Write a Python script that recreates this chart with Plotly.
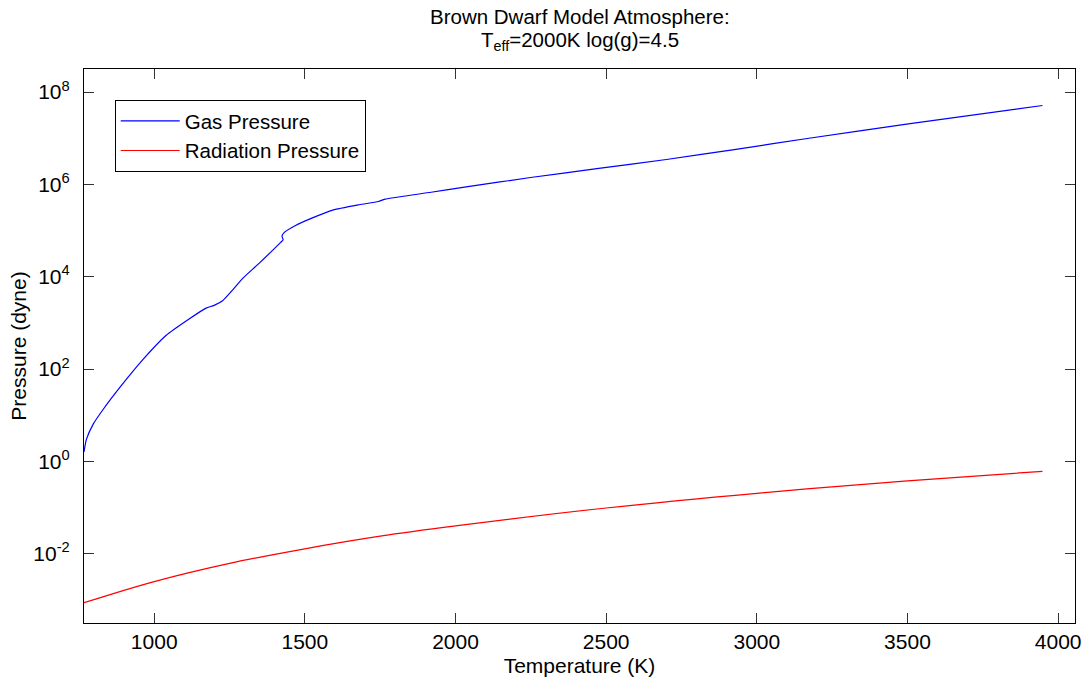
import plotly.graph_objects as go

# Gas pressure curve
gas_T = [767, 775, 798, 831, 886, 963, 1040, 1117, 1172, 1199, 1227, 1260, 1293, 1348,
         1419, 1428, 1424, 1432, 1469, 1523, 1590, 1680, 1744, 1766, 1919, 2030,
         2249, 2469, 2700, 2931, 3173, 3503, 3948]
gas_P = [1.6, 3.0, 6.5, 13.5, 40, 162, 540, 1230, 2090, 2400, 3020, 5130, 9120, 19500,
         55000, 63000, 76000, 91200, 129000, 186000, 275000, 363000, 427000, 479000,
         676000, 871000, 1.41e6, 2.19e6, 3.47e6, 5.75e6, 1.0e7, 2.04e7, 5.13e7]

# Radiation pressure curve
rad_T = [767, 1000, 1250, 1500, 1750, 2000, 2500, 3000, 3500, 3948]
rad_P = [8.7e-4, 2.5e-3, 6.2e-3, 1.28e-2, 2.4e-2, 4.0e-2, 9.8e-2, 0.204, 0.378, 0.61]

x_ticks = [1000, 1500, 2000, 2500, 3000, 3500, 4000]
y_ticks = [1e-2, 1e0, 1e2, 1e4, 1e6, 1e8]
y_tick_text = ["10<sup>-2</sup>", "10<sup>0</sup>", "10<sup>2</sup>",
               "10<sup>4</sup>", "10<sup>6</sup>", "10<sup>8</sup>"]

title_line1 = "Brown Dwarf Model Atmosphere:"
title_line2 = "T<sub>eff</sub>=2000K log(g)=4.5"

FONT = "Liberation Sans, Arial, Helvetica, sans-serif"

fig = go.Figure()
fig.add_trace(go.Scatter(x=gas_T, y=gas_P, mode="lines", name="Gas Pressure",
                         line=dict(color="#0000ff", width=1.2, shape="spline", smoothing=0.6)))
fig.add_trace(go.Scatter(x=rad_T, y=rad_P, mode="lines", name="Radiation Pressure",
                         line=dict(color="#ff0000", width=1.2, shape="spline")))

fig.add_annotation(
    text=title_line1, x=0.5, xref="paper", xanchor="center",
    y=1.095, yref="paper", yanchor="middle",
    showarrow=False, font=dict(family=FONT, size=20.5, color="black"),
)
fig.add_annotation(
    text=title_line2, x=0.5, xref="paper", xanchor="center",
    y=1.051, yref="paper", yanchor="middle",
    showarrow=False, font=dict(family=FONT, size=20.5, color="black"),
)

fig.update_layout(
    width=1089, height=682,
    margin=dict(l=84, r=8, t=69, b=55),
    paper_bgcolor="white", plot_bgcolor="white",
    font=dict(family=FONT, size=21, color="black"),
    showlegend=True,
    legend=dict(x=0.031, y=0.944, xanchor="left", yanchor="top",
                bordercolor="black", borderwidth=1, bgcolor="white",
                font=dict(family=FONT, size=20.5, color="black"),
                tracegroupgap=0, itemwidth=59),
)

fig.update_xaxes(
    range=[767, 4056], tickvals=x_ticks, ticks="inside", ticklen=10,
    tickcolor="#333333", showline=True, linecolor="black", linewidth=1.2,
    mirror="ticks", showgrid=False, zeroline=False,
    title=dict(text="Temperature (K)", standoff=6, font=dict(size=21)),
    tickfont=dict(size=21),
)
fig.update_yaxes(
    type="log", range=[-3.5, 8.5], tickvals=y_ticks, ticktext=y_tick_text,
    ticks="inside", ticklen=10, tickcolor="#333333", showline=True,
    linecolor="black", linewidth=1.2, mirror="ticks", showgrid=False,
    zeroline=False, ticklabelstandoff=9,
    title=dict(text="Pressure (dyne)", standoff=0, font=dict(size=21)),
    tickfont=dict(size=21),
)

fig.write_html("out.html")
